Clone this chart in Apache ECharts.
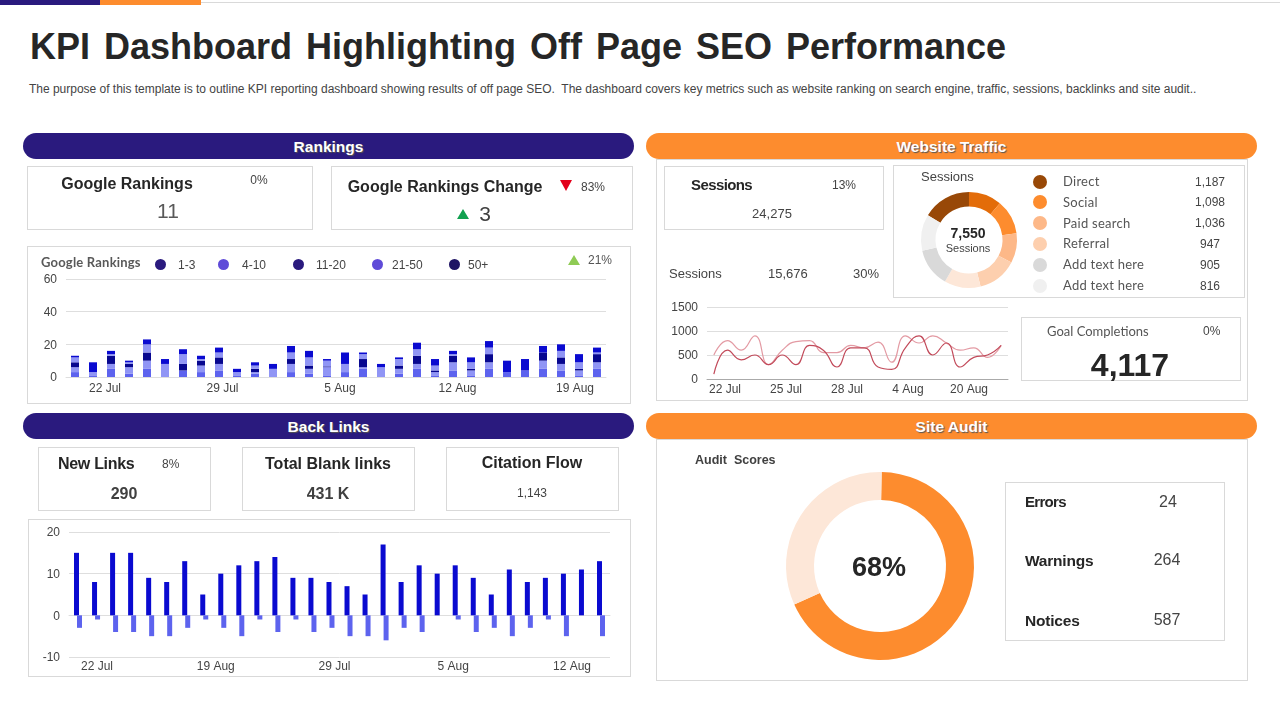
<!DOCTYPE html>
<html><head><meta charset="utf-8">
<style>
html,body{margin:0;padding:0;background:#fff;width:1280px;height:720px;overflow:hidden;font-family:"Liberation Sans",sans-serif;color:#262626}
.t{position:absolute;white-space:nowrap;line-height:1}
.box{position:absolute;border:1px solid #d9d9d9;box-sizing:border-box;background:#fff}
.bar{position:absolute;height:26px;border-radius:13px;color:#fff;font-weight:700;font-size:15.5px;line-height:27px;text-align:center;text-shadow:1px 1px 1px #555}
#c{position:absolute;left:0;top:0;width:1280px;height:720px}
.c{transform:translateX(-50%)}
.h{font-size:16px;font-weight:700}
.n{font-size:15.5px;font-weight:700;letter-spacing:-.2px}
</style></head><body>
<div style="position:absolute;left:0;top:0;width:100px;height:5px;background:#2a1a7e"></div>
<div style="position:absolute;left:100px;top:0;width:101px;height:5px;background:#fd8c2e"></div>
<div style="position:absolute;left:201px;top:2px;width:1079px;height:1px;background:#d9d9d9"></div>
<div class="t" style="left:30px;top:29px;font-size:36px;font-weight:700;word-spacing:4px">KPI Dashboard Highlighting Off Page SEO Performance</div>
<div class="t" style="left:29px;top:83px;font-size:12px;color:#444;letter-spacing:-.015px">The purpose of this template is to outline KPI reporting dashboard showing results of off page SEO.&nbsp; The dashboard covers key metrics such as website ranking on search engine, traffic, sessions, backlinks and site audit..</div>

<div class="bar" style="left:23px;top:133px;width:611px;background:#2a1a7e">Rankings</div>
<div class="bar" style="left:646px;top:133px;width:611px;background:#fd8c2e">Website Traffic</div>
<div class="bar" style="left:23px;top:413px;width:611px;background:#2a1a7e">Back Links</div>
<div class="bar" style="left:646px;top:413px;width:611px;background:#fd8c2e">Site Audit</div>

<div class="box" style="left:27px;top:166px;width:286px;height:64px"></div>
<div class="box" style="left:331px;top:166px;width:302px;height:64px"></div>
<div class="box" style="left:27px;top:246px;width:604px;height:158px"></div>
<div class="box" style="left:656px;top:159px;width:592px;height:242px"></div>
<div class="box" style="left:664px;top:166px;width:220px;height:64px"></div>
<div class="box" style="left:893px;top:165px;width:352px;height:133px"></div>
<div class="box" style="left:1021px;top:317px;width:220px;height:64px"></div>
<div class="box" style="left:38px;top:447px;width:173px;height:64px"></div>
<div class="box" style="left:242px;top:447px;width:173px;height:64px"></div>
<div class="box" style="left:446px;top:447px;width:173px;height:64px"></div>
<div class="box" style="left:28px;top:519px;width:603px;height:158px"></div>
<div class="box" style="left:656px;top:439px;width:592px;height:242px"></div>
<div class="box" style="left:1005px;top:482px;width:220px;height:159px"></div>

<div id="c"></div>

<div class="t c h" style="left:127px;top:176px">Google Rankings</div>
<div class="t c" style="left:259px;top:174px;font-size:12px;color:#444">0%</div>
<div class="t c" style="left:168px;top:200px;font-size:21px;color:#595959">11</div>
<div class="t c h" style="left:445px;top:179px">Google Rankings Change</div>
<div class="t" style="left:560px;top:180px;width:0;height:0;border-left:6px solid transparent;border-right:6px solid transparent;border-top:11px solid #e3001b"></div>
<div class="t c" style="left:593px;top:181px;font-size:12px;color:#444">83%</div>
<div class="t" style="left:457px;top:209px;width:0;height:0;border-left:6px solid transparent;border-right:6px solid transparent;border-bottom:10px solid #12a150"></div>
<div class="t c" style="left:485px;top:203px;font-size:21px;color:#404040">3</div>

<div class="t" style="left:41px;top:256px;font-size:13px;font-weight:700;color:#595959;font-family:Lato,sans-serif;letter-spacing:.2px">Google Rankings</div>
<div class="t" style="left:568px;top:255px;width:0;height:0;border-left:6px solid transparent;border-right:6px solid transparent;border-bottom:10px solid #8fcb55"></div>
<div class="t" style="left:588px;top:254px;font-size:12px;color:#555">21%</div>

<div class="t" style="left:691px;top:177px;font-size:15px;font-weight:700;letter-spacing:-.6px">Sessions</div>
<div class="t c" style="left:844px;top:179px;font-size:12px;color:#444">13%</div>
<div class="t c" style="left:772px;top:207px;font-size:13px;color:#444">24,275</div>
<div class="t" style="left:669px;top:267px;font-size:13px;color:#444">Sessions</div>
<div class="t" style="left:768px;top:267px;font-size:13px;color:#444">15,676</div>
<div class="t" style="left:853px;top:267px;font-size:13px;color:#444">30%</div>

<div class="t" style="left:921px;top:170px;font-size:13px;color:#444">Sessions</div>
<div class="t c" style="left:968px;top:226px;font-size:14px;font-weight:700">7,550</div>
<div class="t c" style="left:968px;top:243px;font-size:11px;color:#444">Sessions</div>

<div class="t" style="left:1047px;top:325px;font-size:13px;color:#555;font-family:Lato,sans-serif">Goal Completions</div>
<div class="t" style="left:1203px;top:325px;font-size:12px;color:#444">0%</div>
<div class="t c" style="left:1130px;top:349px;font-size:32px;font-weight:700">4,117</div>

<div class="t" style="left:58px;top:456px;font-size:16px;font-weight:700;letter-spacing:-.3px">New Links</div>
<div class="t" style="left:162px;top:458px;font-size:12px;color:#444">8%</div>
<div class="t c h" style="left:124px;top:486px;color:#404040">290</div>
<div class="t c h" style="left:328px;top:456px">Total Blank links</div>
<div class="t c h" style="left:328px;top:486px;color:#404040">431 K</div>
<div class="t c h" style="left:532px;top:455px">Citation Flow</div>
<div class="t c" style="left:532px;top:487px;font-size:12px;color:#444">1,143</div>

<div class="t" style="left:695px;top:454px;font-size:12.5px;font-weight:700;color:#404040">Audit&nbsp; Scores</div>
<div class="t c" style="left:879px;top:554px;font-size:27px;font-weight:700">68%</div>
<div class="t n" style="left:1025px;top:494px;font-size:15px;letter-spacing:-.7px">Errors</div>
<div class="t c" style="left:1168px;top:494px;font-size:16px;color:#444">24</div>
<div class="t n" style="left:1025px;top:553px">Warnings</div>
<div class="t c" style="left:1167px;top:552px;font-size:16px;color:#444">264</div>
<div class="t n" style="left:1025px;top:613px">Notices</div>
<div class="t c" style="left:1167px;top:612px;font-size:16px;color:#444">587</div>
<div id="legends"></div>

<script src="https://cdn.jsdelivr.net/npm/echarts@6/dist/echarts.min.js"></script>
<script>
// Google Rankings stacked bars
const rankIndex = [1,2,3,4,5,6,7,8,9,10,11,12,13,14,15,16,17,18,19,20,21,22,23,24,25,26,27,28,29,30];
const rankNames = ['1-3','4-10','11-20','21-50','50+'];
const rankLegendColors = ['#2a1a7e','#5f4bd8','#2a1a7e','#5f4bd8','#1f1464'];
const rankColors = ['#5d63ee','#9095f5','#07078f','#9095f5','#0a0ad0'];
const rank1 = [3,1,5,2,5,0,4,3,4,1,2,0,3,2,1,3,5,0,2,5,1,4,1,5,3,4,5,4,1,5];
const rank2 = [3,2,3,4,5,8,0,4,4,2,1,5,5,3,5,5,1,6,3,3,2,5,3,4,0,0,5,4,3,4];
const rank3 = [3,0,5,2,5,0,4,3,4,0,2,0,3,2,0.5,0,5,0,2,5,1,4,1,5,0,0,5,4,1,5];
const rank4 = [3,0,1,1,5,0,6,1,3,0,2,0,4,5,3.5,0,3,0,4,4,3,1,4,4,0,0,0,4,4,1];
const rank5 = [1,6,2,1,3,3,3,2,3,2,2,3,4,4,1,7,1,2,1,4,4,2,3,4,7,7,4,4,5,3];
const rankTicks = ['22 Jul','29 Jul','5 Aug','12 Aug','19 Aug'];
// Back links
const linkIndex = rankIndex.slice();
const linksNew = [15,8,15,15,9,8,13,5,10,12,13,14,9,9,8,7,5,17,8,12,10,12,9,5,11,8,9,10,11,13];
const linksLost = [-3,-1,-4,-4,-5,-5,-3,-1,-3,-5,-1,-4,-1,-4,-3,-5,-5,-6,-3,-4,0,-1,-4,-3,-5,-3,-1,-5,0,-5];
const linkTicks = ['22 Jul','19 Aug','29 Jul','5 Aug','12 Aug'];
// Sessions lines
const trafficIndex = [1,2,3,4,5,6,7,8,9,10,11,12,13,14,15,16,17,18,19,20,21,22];
const trafficDark = [100,600,400,500,300,500,300,700,600,250,650,650,250,200,650,900,500,750,250,450,500,700];
const trafficLight = [500,800,600,900,300,600,780,800,550,550,700,650,770,350,900,750,900,750,600,650,450,700];
const trafficTicks = ['22 Jul','25 Jul','28 Jul','4 Aug','20 Aug'];
// Sessions donut
const donutSlices = [1237,839,881,755,1007,923,985,923];
const donutColors = ['#984807','#e36c09','#fd8c2e','#fdb888','#fdcfae','#fde7d8','#d9d9d9','#f0f0f0'];
const legendNames = ['Direct','Social','Paid search','Referral','Add text here','Add text here'];
const legendValues = ['1,187','1,098','1,036','947','905','816'];
const legendDots = ['#984807','#fd8c2e','#fdb888','#fdcfae','#d9d9d9','#f0f0f0'];
// Audit donut
const auditValues = [68,32];
const auditColors = ['#fd8c2e','#fde7d8'];

const grey = '#dedede', axisText = {color:'#444',fontSize:12,fontFamily:'Liberation Sans'};
const chart = echarts.init(document.getElementById('c'),null,{renderer:'canvas'});
const hiddenX = (g,data)=>({type:'category',gridIndex:g,data,axisLine:{show:false},axisTick:{show:false},axisLabel:{show:false},splitLine:{show:false}});
const labelX = (g,data,margin)=>({type:'category',gridIndex:g,data,axisLine:{show:false},axisTick:{show:false},axisLabel:{...axisText,interval:0,margin},splitLine:{show:false}});
const hiddenY = g=>({type:'value',gridIndex:g,show:false});
const valueY = (g,min,max,interval)=>({type:'value',gridIndex:g,min,max,interval,axisLine:{show:false},axisTick:{show:false},axisLabel:{margin:9,formatter:v=>`{a|${v}}`,rich:{a:{...axisText,padding:[2,0,0,0]}}},splitLine:{lineStyle:{color:grey}}});

const grids = [
 {left:66,width:540,top:279,height:98},
 {left:46.25,width:587.5,top:279,height:98},
 {left:69,width:541,top:532,height:125},
 {left:37.6,width:593.75,top:532,height:125},
 {left:707,width:301,top:307,height:72},
 {left:694.5,width:305,top:307,height:72}
];
const xAxis = [hiddenX(0,rankIndex),labelX(1,rankTicks,6),hiddenX(2,linkIndex),labelX(3,linkTicks,4),hiddenX(4,trafficIndex),labelX(5,trafficTicks,5)];
xAxis[0].axisLine={show:true,lineStyle:{color:grey}};
xAxis[4].axisLine={show:true,lineStyle:{color:'#aaa'}};
xAxis[2].axisLine={show:true,onZero:true,lineStyle:{color:grey}};
const yAxis = [valueY(0,0,60,20),hiddenY(1),valueY(2,-10,20,10),hiddenY(3),valueY(4,0,1500,500),hiddenY(5)];

const rankSeries = [rank1,rank2,rank3,rank4,rank5].map((d,i)=>({type:'bar',name:rankNames[i],stack:'r',xAxisIndex:0,yAxisIndex:0,barWidth:8,data:d,itemStyle:{color:rankColors[i]},silent:true}));

chart.setOption({animation:false,grid:grids,xAxis,yAxis,series:[
 ...rankSeries,
 {type:'bar',xAxisIndex:2,yAxisIndex:2,barWidth:5,barGap:'-40%',data:linksNew,itemStyle:{color:'#0a0ad0'}},
 {type:'bar',xAxisIndex:2,yAxisIndex:2,barWidth:5,barGap:'-40%',data:linksLost,itemStyle:{color:'#5d63ee'}},
 {type:'line',xAxisIndex:4,yAxisIndex:4,smooth:0.5,symbol:'none',data:trafficLight,lineStyle:{color:'#e39aa3',width:1.2}},
 {type:'line',xAxisIndex:4,yAxisIndex:4,smooth:0.5,symbol:'none',data:trafficDark,lineStyle:{color:'#c24a5a',width:1.2}},
 {type:'pie',center:[969,240],radius:[33.5,48],startAngle:149,label:{show:false},silent:true,data:donutSlices.map((v,i)=>({value:v,itemStyle:{color:donutColors[i]}}))},
 {type:'pie',center:[880,566],radius:[66,94],startAngle:89,label:{show:false},silent:true,data:auditValues.map((v,i)=>({value:v,itemStyle:{color:auditColors[i]}}))}
]});

// HTML legends, built from the arrays
const L = document.getElementById('legends');
const add = (html)=>L.insertAdjacentHTML('beforeend',html);
const rankLegendX = [160,223,298,377,454], rankTextX = [178,242,316,392,468];
rankNames.forEach((n,i)=>{
 add(`<div class="t" style="left:${rankLegendX[i]-5.5}px;top:259px;width:11px;height:11px;border-radius:50%;background:${rankLegendColors[i]}"></div>`);
 add(`<div class="t" style="left:${rankTextX[i]}px;top:259px;font-size:12px;color:#444">${n}</div>`);
});
legendNames.forEach((n,i)=>{
 const y = 181.5+i*20.8;
 add(`<div class="t" style="left:1033px;top:${y-7}px;width:14px;height:14px;border-radius:50%;background:${legendDots[i]}"></div>`);
 add(`<div class="t" style="left:1063px;top:${y-6.5}px;font-size:13px;color:#555;font-family:Lato,sans-serif;letter-spacing:.25px">${n}</div>`);
 add(`<div class="t c" style="left:1210px;top:${y-6}px;font-size:12px;color:#444">${legendValues[i]}</div>`);
});
</script>
</body></html>
